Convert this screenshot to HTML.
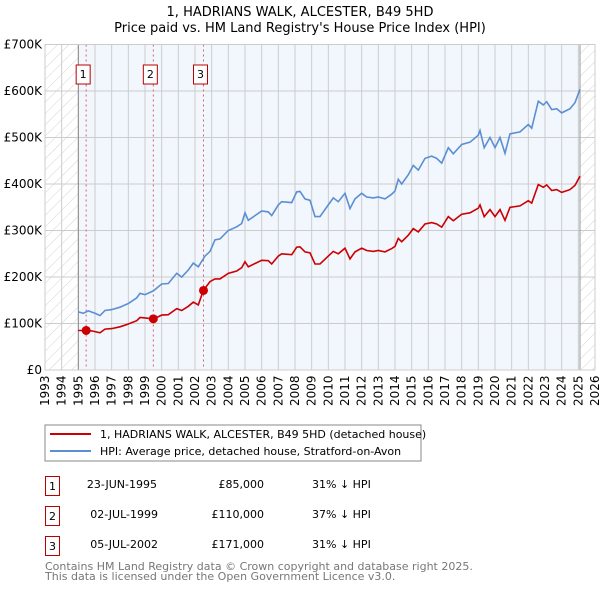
<!DOCTYPE html>
<html><head><meta charset="utf-8"><style>
body{margin:0;background:#fff;}
svg{display:block;font-family:"DejaVu Sans","Liberation Sans",sans-serif;}
</style></head><body>
<svg id="chart" width="600" height="590" viewBox="0 0 600 590">
<defs>
<pattern id="hatch" width="8" height="8" patternUnits="userSpaceOnUse" patternTransform="rotate(45)">
<line x1="0" y1="0" x2="0" y2="8" stroke="#d4d4d4" stroke-width="1"/>
</pattern>
</defs>
<text x="300" y="16" text-anchor="middle" font-size="13">1, HADRIANS WALK, ALCESTER, B49 5HD</text>
<text x="300" y="32" text-anchor="middle" font-size="13">Price paid vs. HM Land Registry's House Price Index (HPI)</text>
<g id="plot"></g>
<rect x="45" y="425" width="376" height="36" fill="#fff" stroke="#888"/>
<line x1="50" y1="434" x2="91" y2="434" stroke="#cc0000" stroke-width="2"/>
<text x="100" y="438" font-size="11">1, HADRIANS WALK, ALCESTER, B49 5HD (detached house)</text>
<line x1="50" y1="451" x2="91" y2="451" stroke="#5b8fd4" stroke-width="2"/>
<text x="100" y="455" font-size="11">HPI: Average price, detached house, Stratford-on-Avon</text>
<g font-size="11">
<rect x="45.5" y="476.5" width="14" height="19" fill="none" stroke="#b00"/>
<text x="52.5" y="490" text-anchor="middle">1</text>
<text x="157" y="488" text-anchor="end">23-JUN-1995</text>
<text x="264" y="488" text-anchor="end">£85,000</text>
<text x="312" y="488">31% ↓ HPI</text>
<rect x="45.5" y="506.5" width="14" height="19" fill="none" stroke="#b00"/>
<text x="52.5" y="520" text-anchor="middle">2</text>
<text x="158" y="518" text-anchor="end">02-JUL-1999</text>
<text x="264" y="518" text-anchor="end">£110,000</text>
<text x="312" y="518">37% ↓ HPI</text>
<rect x="45.5" y="536.5" width="14" height="19" fill="none" stroke="#b00"/>
<text x="52.5" y="550" text-anchor="middle">3</text>
<text x="158" y="548" text-anchor="end">05-JUL-2002</text>
<text x="264" y="548" text-anchor="end">£171,000</text>
<text x="312" y="548">31% ↓ HPI</text>
</g>
<text x="45" y="570" font-size="11" fill="#777">Contains HM Land Registry data © Crown copyright and database right 2025.</text>
<text x="45" y="580" font-size="11" fill="#777">This data is licensed under the Open Government Licence v3.0.</text>
</svg>
<script>
const yTicks=[0,100,200,300,400,500,600,700];
const yTickLabels=["£0","£100K","£200K","£300K","£400K","£500K","£600K","£700K"];
const xYears=[1993,1994,1995,1996,1997,1998,1999,2000,2001,2002,2003,2004,2005,2006,2007,2008,2009,2010,2011,2012,2013,2014,2015,2016,2017,2018,2019,2020,2021,2022,2023,2024,2025,2026];
const hpiYears=[1995.0,1995.3,1995.6,1996.0,1996.3,1996.6,1997.0,1997.5,1998.0,1998.5,1998.7,1999.0,1999.5,2000.0,2000.4,2000.9,2001.2,2001.6,2001.9,2002.2,2002.6,2002.9,2003.2,2003.5,2004.0,2004.5,2004.8,2005.0,2005.2,2005.6,2006.0,2006.4,2006.6,2007.0,2007.2,2007.8,2008.1,2008.3,2008.6,2008.9,2009.2,2009.5,2010.0,2010.3,2010.6,2011.0,2011.3,2011.6,2012.0,2012.3,2012.7,2013.0,2013.4,2013.8,2014.0,2014.2,2014.4,2014.8,2015.1,2015.4,2015.8,2016.2,2016.5,2016.8,2017.2,2017.5,2018.0,2018.5,2019.0,2019.1,2019.35,2019.7,2020.0,2020.3,2020.6,2020.9,2021.5,2022.0,2022.2,2022.6,2022.9,2023.1,2023.4,2023.7,2024.0,2024.5,2024.8,2025.1];
const hpiValues=[125,122,127,122,117,128,130,135,143,155,165,162,170,185,186,208,200,215,230,222,245,255,280,282,300,308,315,338,322,332,342,340,332,355,362,360,383,384,368,365,330,330,355,370,362,380,347,368,380,372,370,372,368,378,385,410,400,420,440,430,455,460,455,445,478,465,485,490,505,515,478,500,478,500,466,508,512,528,520,578,570,577,560,562,553,562,575,604];
const propYears=[1995.0,1995.47,1995.8,1996.3,1996.6,1997.0,1997.5,1998.0,1998.5,1998.7,1999.0,1999.5,1999.7,2000.0,2000.4,2000.9,2001.2,2001.6,2001.9,2002.2,2002.5,2002.9,2003.2,2003.5,2004.0,2004.5,2004.8,2005.0,2005.2,2005.6,2006.0,2006.4,2006.6,2007.0,2007.2,2007.8,2008.1,2008.3,2008.6,2008.9,2009.2,2009.5,2010.0,2010.3,2010.6,2011.0,2011.3,2011.6,2012.0,2012.3,2012.7,2013.0,2013.4,2013.8,2014.0,2014.2,2014.4,2014.8,2015.1,2015.4,2015.8,2016.2,2016.5,2016.8,2017.2,2017.5,2018.0,2018.5,2019.0,2019.1,2019.35,2019.7,2020.0,2020.3,2020.6,2020.9,2021.5,2022.0,2022.2,2022.6,2022.9,2023.1,2023.4,2023.7,2024.0,2024.5,2024.8,2025.1];
const propValues=[85,85,84,80,88,89,93,99,106,113,112,110,113,118,119,132,128,137,146,140,171,190,196,196,208,213,220,233,222,229,236,235,228,245,250,248,264,265,254,252,228,228,245,255,250,262,239,254,262,257,255,257,254,261,266,283,276,290,304,297,314,317,314,307,330,321,335,338,348,355,330,345,330,345,322,350,353,364,359,399,393,398,386,388,382,388,397,417];
const saleYears=[1995.47,1999.5,2002.51];
const saleValues=[85,110,171];
const saleLabels=["1","2","3"];

const NS="http://www.w3.org/2000/svg";
const L=45,R=595,T=44.5,B=370;
const x=y=>L+(y-1993)*(R-L)/33;
const yv=v=>B-v*(B-T)/700;
const g=document.getElementById('plot');
function mk(t,a,p){const e=document.createElementNS(NS,t);for(const k in a)e.setAttribute(k,a[k]);(p||g).appendChild(e);return e;}

mk('rect',{x:x(1995),y:T,width:x(2025.1)-x(1995),height:B-T,fill:'#f2f6fd'});
const h1=mk('rect',{x:L,y:T,width:x(1995)-L,height:B-T,fill:'url(#hatch)'});


const h2=mk('rect',{x:x(2025.1),y:T,width:R-x(2025.1),height:B-T,fill:'url(#hatch)'});



yTicks.forEach((v,i)=>{
  const ln=mk('line',{x1:L,x2:R,y1:yv(v),y2:yv(v),stroke:'#ccc'});
  
  
  const t=mk('text',{x:L-3,y:yv(v)+4,'text-anchor':'end','font-size':12});
  t.textContent=yTickLabels[i];
  
  
});
xYears.forEach(yr=>{
  const ln=mk('line',{x1:x(yr),x2:x(yr),y1:T,y2:B,stroke:'#ccc'});
  
  
  const t=mk('text',{transform:`translate(${x(yr)+4},${B+36}) rotate(-90)`,'font-size':12});
  t.textContent=yr;
  
  
});
mk('line',{x1:x(1995),x2:x(1995),y1:T,y2:B,stroke:'#888'});
mk('line',{x1:x(2025.1),x2:x(2025.1),y1:T,y2:B,stroke:'#999'});

saleYears.forEach((yr,i)=>{
  const ln=mk('line',{x1:x(yr),x2:x(yr),y1:T,y2:B,stroke:'#e06060','stroke-dasharray':'2,3'});
  
  
  const bx=mk('rect',{x:x(yr)-10,y:65,width:14,height:19,fill:'#fff',stroke:'#b00'});
  
  
  const t=mk('text',{x:x(yr)-3,y:78,'text-anchor':'middle','font-size':11});
  t.textContent=saleLabels[i];
  
  
});

const hp=mk('path',{d:hpiYears.map((yr,i)=>(i?'L':'M')+x(yr).toFixed(1)+','+yv(hpiValues[i]).toFixed(1)).join(''),fill:'none',stroke:'#5b8fd4','stroke-width':1.6});


const pp=mk('path',{d:propYears.map((yr,i)=>(i?'L':'M')+x(yr).toFixed(1)+','+yv(propValues[i]).toFixed(1)).join(''),fill:'none',stroke:'#cc0000','stroke-width':1.6});


saleYears.forEach((yr,i)=>{
  const c=mk('circle',{cx:x(yr),cy:yv(saleValues[i]),r:4.5,fill:'#cc0000'});
  
  
});
mk('rect',{x:L,y:T,width:R-L,height:B-T,fill:'none',stroke:'#ccc'});
</script>
</body></html>
